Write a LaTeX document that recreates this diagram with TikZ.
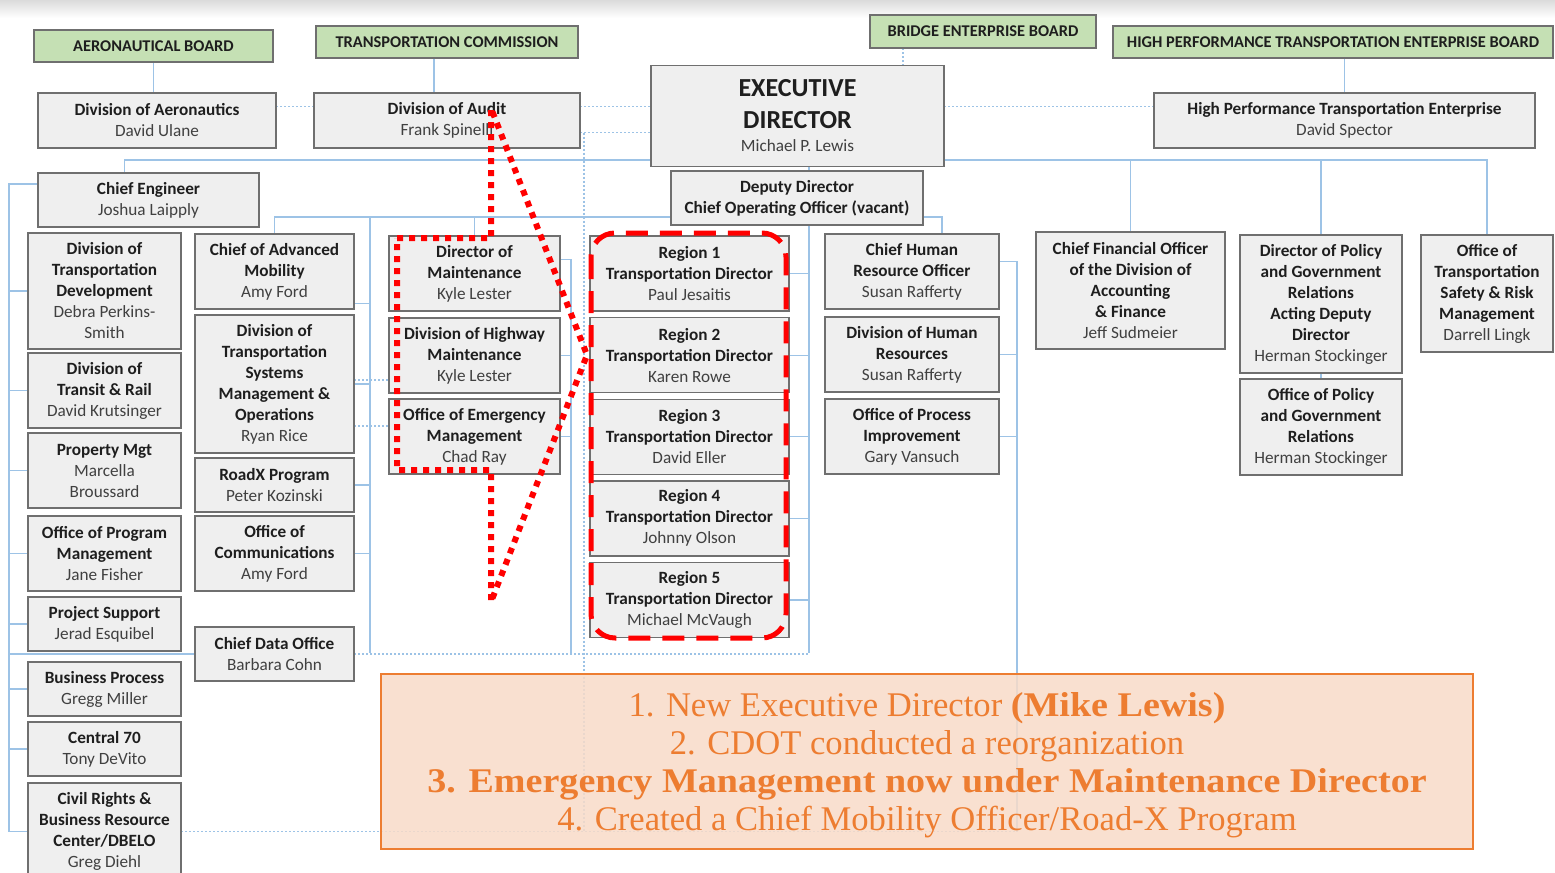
\documentclass[tikz,border=0pt]{standalone}
\usepackage{fontspec}
\setmainfont{Carlito}
\newfontfamily\notefont{Liberation Serif}[BoldFeatures={FakeStretch=1.1}]
\usetikzlibrary{positioning, backgrounds}

\definecolor{boxfill}{HTML}{EFEFEF}
\definecolor{boxline}{HTML}{6F6F6F}
\definecolor{boardgreen}{HTML}{C5E0B4}
\definecolor{linkblue}{HTML}{9DC3E6}
\definecolor{nametext}{HTML}{404040}
\definecolor{titletext}{HTML}{1E1E1E}
\definecolor{noteorange}{HTML}{ED7D31}
\definecolor{notefill}{HTML}{F8DBC8}
\definecolor{markred}{HTML}{FF0000}

\newcommand{\pname}[1]{{\mdseries\color{nametext}#1}}

\tikzset{
    unit/.style={
        rectangle,
        draw=boxline,
        fill=boxfill,
        line width=0.7pt,
        outer sep=0pt,
        align=center,
        inner sep=1pt,
        text=titletext,
        font=\fontsize{8.6}{10.5}\selectfont\bfseries
    },
    board/.style={
        unit,
        fill=boardgreen,
        minimum height=16pt,
        font=\fontsize{8.2}{10}\selectfont\bfseries
    },
    link/.style={
        draw=linkblue,
        line width=0.6pt
    },
    dotlink/.style={
        draw=linkblue,
        line width=0.7pt,
        dash pattern=on 1pt off 1pt
    },
    redarrow/.style={
        draw=markred,
        line width=3pt,
        dash pattern=on 3pt off 3pt
    },
    redframe/.style={
        draw=markred,
        line width=2.5pt,
        rounded corners=12pt,
        dash pattern=on 11pt off 6pt
    },
    notebox/.style={
        rectangle,
        draw=noteorange,
        line width=1pt,
        fill=notefill,
        fill opacity=0.85,
        text opacity=1,
        text=noteorange,
        align=center,
        minimum width=546pt,
        minimum height=87.5pt,
        font=\notefont\fontsize{17.3}{19}\selectfont
    },
}

\begin{document}
\begin{tikzpicture}[x=0.5pt, y=-0.5pt]

\useasboundingbox (0,0) rectangle (1555,873);

% Boards
\node[board, minimum width=119.5pt] (aeroboard) at (153.5,46) {AERONAUTICAL BOARD};
\node[board, minimum width=131pt] (tcboard) at (447,42) {TRANSPORTATION COMMISSION};
\node[board, minimum width=113pt, minimum height=16.5pt] (bebboard) at (983,31.5) {BRIDGE ENTERPRISE BOARD};
\node[board, minimum width=220pt] (hptebboard) at (1333,42) {HIGH PERFORMANCE TRANSPORTATION ENTERPRISE BOARD};

% Executive level
\node[unit, minimum width=119pt, minimum height=27.5pt] (aero) at (157,120.5) {
    Division of Aeronautics\\
    \pname{David Ulane}
};
\node[unit, minimum width=133pt, minimum height=27.5pt] (audit) at (447,120.5) {
    Division of Audit\\
    \pname{Frank Spinelli}
};
\node[unit, minimum width=146.5pt, minimum height=50.5pt, font=\fontsize{13}{16}\selectfont\bfseries] (exec) at (797.5,116) {
    EXECUTIVE\\
    DIRECTOR\\[-4.5pt]
    \fontsize{8.6}{10.5}\selectfont\pname{Michael P. Lewis}
};
\node[unit, minimum width=190.5pt, minimum height=27.5pt] (hpte) at (1344.5,120.5) {
    High Performance Transportation Enterprise\\
    \pname{David Spector}
};

% Chief Engineer and Deputy
\node[unit, minimum width=110.5pt, minimum height=27pt] (chiefeng) at (148.5,200) {
    Chief Engineer\\
    \pname{Joshua Laipply}
};
\node[unit, minimum width=126pt, minimum height=27pt] (deputy) at (797,198) {
    Deputy Director\\
    Chief Operating Officer (vacant)
};

% Column 1
\node[unit, minimum width=76.5pt, minimum height=58pt] (tdev) at (104.5,291) {
    Division of\\
    Transportation\\
    Development\\
    \pname{Debra Perkins-}\\
    \pname{Smith}
};
\node[unit, minimum width=76.5pt, minimum height=37.5pt, below=2pt of tdev] (transit) {
    Division of\\
    Transit \& Rail\\
    \pname{David Krutsinger}
};
\node[unit, minimum width=76.5pt, minimum height=37.5pt, below=2.5pt of transit] (property) {
    Property Mgt\\
    \pname{Marcella}\\
    \pname{Broussard}
};
\node[unit, minimum width=76.5pt, minimum height=37.5pt, below=4pt of property] (progmgt) {
    Office of Program\\
    Management\\
    \pname{Jane Fisher}
};
\node[unit, minimum width=76.5pt, minimum height=27pt, below=3pt of progmgt] (projsup) {
    Project Support\\
    \pname{Jerad Esquibel}
};
\node[unit, minimum width=76.5pt, minimum height=27pt, below=5.5pt of projsup] (busproc) {
    Business Process\\
    \pname{Gregg Miller}
};
\node[unit, minimum width=76.5pt, minimum height=27pt, below=3pt of busproc] (c70) {
    Central 70\\
    \pname{Tony DeVito}
};
\node[unit, minimum width=76.5pt, minimum height=48.5pt, below=3.5pt of c70] (civil) {
    Civil Rights \&\\
    Business Resource\\
    Center/DBELO\\
    \pname{Greg Diehl}
};

% Column 2
\node[unit, minimum width=79.5pt, minimum height=37.5pt] (cam) at (274.5,271.5) {
    Chief of Advanced\\
    Mobility\\
    \pname{Amy Ford}
};
\node[unit, minimum width=79.5pt, minimum height=69pt, below=3pt of cam] (tsmo) {
    Division of\\
    Transportation\\
    Systems\\
    Management \&\\
    Operations\\
    \pname{Ryan Rice}
};
\node[unit, minimum width=79.5pt, minimum height=27pt, below=2.5pt of tsmo] (roadx) {
    RoadX Program\\
    \pname{Peter Kozinski}
};
\node[unit, minimum width=79.5pt, minimum height=37.5pt, below=2pt of roadx] (comms) {
    Office of\\
    Communications\\
    \pname{Amy Ford}
};
\node[unit, minimum width=79.5pt, minimum height=27pt, below=18pt of comms] (cdo) {
    Chief Data Office\\
    \pname{Barbara Cohn}
};

% Column 3
\node[unit, minimum width=85.5pt, minimum height=37.5pt] (dom) at (474.5,273.5) {
    Director of\\
    Maintenance\\
    \pname{Kyle Lester}
};
\node[unit, minimum width=85.5pt, minimum height=37.5pt, below=3.5pt of dom] (dhm) {
    Division of Highway\\
    Maintenance\\
    \pname{Kyle Lester}
};
\node[unit, minimum width=85.5pt, minimum height=37.5pt, below=3pt of dhm] (oem) {
    Office of Emergency\\
    Management\\
    \pname{Chad Ray}
};

% Regions
\node[unit, minimum width=99.5pt, minimum height=37.5pt] (r1) at (689.5,273.5) {
    Region 1\\
    Transportation Director\\
    \pname{Paul Jesaitis}
};
\node[unit, minimum width=99.5pt, minimum height=37.5pt, below=3.3pt of r1] (r2) {
    Region 2\\
    Transportation Director\\
    \pname{Karen Rowe}
};
\node[unit, minimum width=99.5pt, minimum height=37.5pt, below=3.3pt of r2] (r3) {
    Region 3\\
    Transportation Director\\
    \pname{David Eller}
};
\node[unit, minimum width=99.5pt, minimum height=37.5pt, below=3.3pt of r3] (r4) {
    Region 4\\
    Transportation Director\\
    \pname{Johnny Olson}
};
\node[unit, minimum width=99.5pt, minimum height=37.5pt, below=3.3pt of r4] (r5) {
    Region 5\\
    Transportation Director\\
    \pname{Michael McVaugh}
};

% Column 5
\node[unit, minimum width=87pt, minimum height=37.5pt] (chro) at (912,271.5) {
    Chief Human\\
    Resource Officer\\
    \pname{Susan Rafferty}
};
\node[unit, minimum width=87pt, minimum height=37.5pt, below=4pt of chro] (dhr) {
    Division of Human\\
    Resources\\
    \pname{Susan Rafferty}
};
\node[unit, minimum width=87pt, minimum height=37.5pt, below=3.5pt of dhr] (opi) {
    Office of Process\\
    Improvement\\
    \pname{Gary Vansuch}
};

% Right columns
\node[unit, minimum width=94.5pt, minimum height=58.5pt] (cfo) at (1130.5,290.5) {
    Chief Financial Officer\\
    of the Division of\\
    Accounting\\
    \& Finance\\
    \pname{Jeff Sudmeier}
};
\node[unit, minimum width=81pt, minimum height=69pt] (dpg) at (1321,304) {
    Director of Policy\\
    and Government\\
    Relations\\
    Acting Deputy\\
    Director\\
    \pname{Herman Stockinger}
};
\node[unit, minimum width=81pt, minimum height=48pt, below=3pt of dpg] (opg) {
    Office of Policy\\
    and Government\\
    Relations\\
    \pname{Herman Stockinger}
};
\node[unit, minimum width=66pt, minimum height=58.5pt] (ots) at (1487,293.5) {
    Office of\\
    Transportation\\
    Safety \& Risk\\
    Management\\
    \pname{Darrell Lingk}
};

% Connectors
\begin{scope}[on background layer]
\shade[top color=black!14, bottom color=white] (0,0) rectangle (1555,18);

\coordinate (topbus) at (0,160);
\coordinate (midbus) at (0,217);
\coordinate (lowbus) at (0,653);
\coordinate (leftbus) at (9,0);
\coordinate (col2bus) at (370,0);
\coordinate (col3bus) at (571,0);
\coordinate (regbus) at (809,0);
\coordinate (col5bus) at (1017,0);
\coordinate (auditline) at (584,0);

% boards
\draw[link] (aeroboard.south) -- (aeroboard.south |- aero.north);
\draw[link] ([xshift=-6.5pt]tcboard.south) -- ([xshift=-6.5pt]tcboard.south |- audit.north);
\draw[link] (hptebboard.south -| hpte.north) -- (hpte.north);
\draw[dotlink] ([xshift=-40pt]bebboard.south) -- ([xshift=-40pt]bebboard.south |- exec.north);

% staff lines
\draw[dotlink] ([yshift=7pt]aero.east) -- ([yshift=7pt]audit.west);
\draw[dotlink] ([yshift=7pt]audit.east) -- ([yshift=7pt]hpte.west);
\draw[dotlink] ([yshift=-6pt]audit.east) -- ([yshift=-6pt]audit.east -| exec.west);
\draw[dotlink] ([yshift=-6pt]audit.east -| auditline) -- (auditline |- civil.east);
\draw[dotlink] (civil.east) -- (civil.east -| col5bus);

% top bus
\draw[link] ([xshift=-12pt]chiefeng.north) |- (topbus -| ots.north) -- (ots.north);
\draw[link] (cfo.north) -- (cfo.north |- topbus);
\draw[link] (dpg.north) -- (dpg.north |- topbus);
\draw[link] (exec.south -| regbus) -- (deputy.north -| regbus);
\draw[link] (dpg) -- (opg);

% middle bus
\draw[link] (cam.north) |- ([xshift=15pt]chro.north |- midbus) -- ([xshift=15pt]chro.north);
\draw[link] (dom.north) -- (dom.north |- midbus);
\draw[link] (col2bus |- midbus) -- (col2bus |- lowbus);
\draw[link] ([yshift=-16pt]cam.east) -- ([yshift=-16pt]cam.east -| col2bus);
\foreach \u in {tsmo,roadx,comms}
    \draw[link] (\u.east) -- (\u.east -| col2bus);
\draw[dotlink] ([yshift=2pt]tsmo.east) -- ([yshift=2pt]tsmo.east -| dhm.west);
\draw[dotlink] ([yshift=-21pt]tsmo.east) -- ([yshift=-21pt]tsmo.east -| oem.west);

% maintenance
\draw[link] ([yshift=7pt]dom.east) -| (col3bus |- lowbus);
\foreach \u in {dhm,oem}
    \draw[link] (\u.east) -- (\u.east -| col3bus);

% regions
\draw[link] (deputy.south -| regbus) -- (regbus |- lowbus);
\foreach \u in {r1,r2,r3,r4,r5}
    \draw[link] (\u.east) -- (\u.east -| regbus);
\draw[dotlink] (cdo.east) -- (cdo.east -| regbus);

% chief engineer
\draw[link] ([yshift=8pt]chiefeng.west) -| (leftbus |- civil.west) -- (civil.west);
\foreach \u in {tdev,transit,property,progmgt,projsup,busproc,c70,cdo}
    \draw[link] (\u.west) -- (\u.west -| leftbus);

% human resources
\draw[link] ([yshift=5pt]chro.east) -| (col5bus |- civil.east);
\foreach \u in {dhr,opi}
    \draw[link] (\u.east) -- (\u.east -| col5bus);
\end{scope}

% Marks
\draw[redarrow] (397,238) -- (491,238) -- (491,108) -- (587,355) -- (491,602) -- (491,470) -- (397,470) -- cycle;
\draw[redframe] (591,233) rectangle (786,638);

% Notes
\node[notebox] (notes) at (927,761.5) {
    \rule{0pt}{15.5pt}1. New Executive Director \textbf{(Mike Lewis)}\\
    2. CDOT conducted a reorganization\\
    \textbf{3. Emergency Management now under Maintenance Director}\\
    4. Created a Chief Mobility Officer/Road-X Program
};

\end{tikzpicture}
\end{document}
